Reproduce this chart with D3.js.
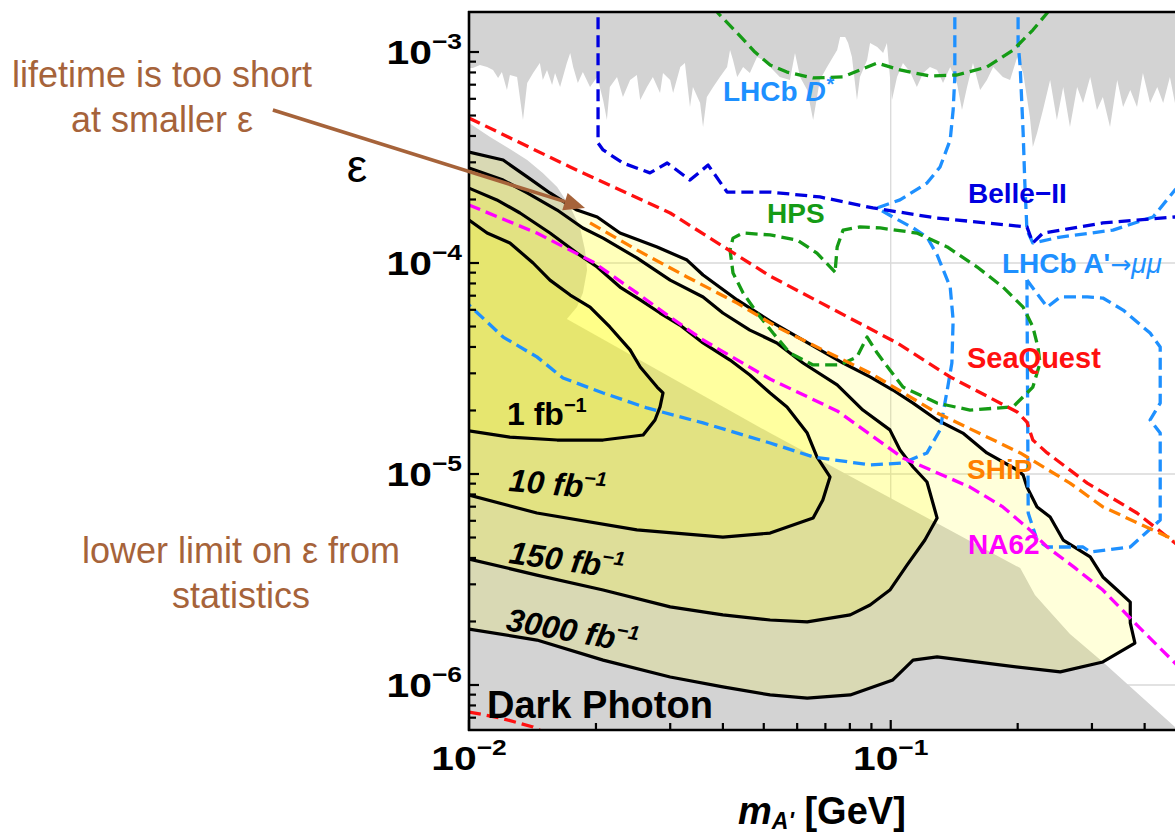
<!DOCTYPE html>
<html>
<head>
<meta charset="utf-8">
<script src="https://cdn.jsdelivr.net/npm/d3@7"></script>
<style>
  html, body { margin: 0; padding: 0; background: #fff; }
  svg { display: block; }
  text { font-family: "Liberation Sans", Arial, Helvetica, sans-serif; }
</style>
</head>
<body>
<svg id="chart" width="1175" height="833"></svg>
<script>
// ---------------------------------------------------------------
// Data. Every curve is tabulated as [log10(m_A' / GeV), log10(epsilon)].
// ---------------------------------------------------------------
const massTickValues = [0.01, 0.1];
const massTickLabels = [["10", "−2"], ["10", "−1"]];
const epsTickValues = [1e-6, 1e-5, 1e-4, 1e-3];
const epsTickLabels = [["10", "−6"], ["10", "−5"], ["10", "−4"], ["10", "−3"]];
const luminosities = ["1", "10", "150", "3000"];

// lower edge of the existing (beam dump / collider) exclusions at large epsilon
const topGrayEdge = [
  [-2.000,-3.076],[-1.991,-3.076],[-1.974,-3.062],[-1.957,-3.071],[-1.943,-3.085],[-1.931,-3.123],
  [-1.922,-3.095],[-1.910,-3.180],[-1.903,-3.109],[-1.886,-3.118],[-1.872,-3.322],[-1.862,-3.147],
  [-1.848,-3.100],[-1.832,-3.052],[-1.825,-3.133],[-1.815,-3.085],[-1.803,-3.156],[-1.796,-3.100],
  [-1.784,-3.166],[-1.768,-3.052],[-1.760,-3.005],[-1.753,-3.071],[-1.742,-3.147],[-1.730,-3.095],
  [-1.713,-3.166],[-1.696,-3.118],[-1.682,-3.227],[-1.673,-3.322],[-1.666,-3.166],[-1.649,-3.118],
  [-1.635,-3.213],[-1.618,-3.133],[-1.602,-3.109],[-1.594,-3.227],[-1.578,-3.166],[-1.564,-3.118],
  [-1.547,-3.194],[-1.540,-3.100],[-1.523,-3.133],[-1.516,-3.194],[-1.499,-3.071],[-1.488,-3.052],
  [-1.476,-3.261],[-1.469,-3.166],[-1.452,-3.242],[-1.445,-3.355],[-1.436,-3.213],[-1.421,-3.166],
  [-1.405,-3.118],[-1.388,-3.071],[-1.381,-2.991],[-1.374,-3.038],[-1.364,-3.118],[-1.350,-3.071],
  [-1.334,-3.100],[-1.317,-3.024],[-1.303,-3.038],[-1.286,-3.071],[-1.263,-3.118],[-1.239,-3.133],
  [-1.227,-3.005],[-1.215,-3.118],[-1.198,-3.180],[-1.184,-3.322],[-1.168,-3.133],[-1.151,-3.071],
  [-1.127,-2.991],[-1.120,-2.929],[-1.108,-2.929],[-1.101,-2.957],[-1.092,-3.024],[-1.080,-3.227],
  [-1.073,-3.118],[-1.056,-3.038],[-1.049,-2.957],[-1.032,-2.976],[-1.018,-3.005],[-1.009,-2.957],
  [-0.997,-3.227],[-0.985,-3.118],[-0.971,-3.052],[-0.954,-3.095],[-0.938,-3.166],[-0.923,-3.100],
  [-0.907,-3.071],[-0.890,-3.085],[-0.876,-3.147],[-0.859,-3.071],[-0.843,-3.147],[-0.831,-3.275],
  [-0.819,-3.166],[-0.805,-3.052],[-0.788,-3.180],[-0.772,-3.133],[-0.757,-3.071],[-0.734,-3.118],
  [-0.717,-3.133],[-0.700,-3.024],[-0.686,-3.100],[-0.670,-3.308],[-0.663,-3.450],[-0.653,-3.384],
  [-0.639,-3.275],[-0.622,-3.133],[-0.606,-3.322],[-0.591,-3.166],[-0.575,-3.355],[-0.558,-3.166],
  [-0.544,-3.242],[-0.527,-3.118],[-0.511,-3.275],[-0.497,-3.213],[-0.480,-3.355],[-0.463,-3.133],
  [-0.449,-3.261],[-0.432,-3.180],[-0.416,-3.261],[-0.402,-3.100],[-0.385,-3.242],[-0.368,-3.166],
  [-0.354,-3.242],[-0.338,-3.118],[-0.326,-3.242],[-0.290,-3.150]
];

// edge of the gray dark-photon band
const darkPhotonEdge = [
  [-2.000,-3.337],[-1.950,-3.403],[-1.903,-3.460],[-1.862,-3.512],[-1.825,-3.574],[-1.791,-3.640],
  [-1.760,-3.735],[-1.737,-3.829],[-1.725,-3.938],[-1.720,-4.033],[-1.730,-4.142],[-1.744,-4.209],
  [-1.768,-4.265],[-1.286,-4.806],[-0.693,-5.446],[-0.658,-5.573],[-0.622,-5.654],[-0.575,-5.758],
  [-0.497,-5.891],[-0.326,-6.199],[-0.290,-6.265]
];

// projected reach for each integrated luminosity
const contour1 = [
  [-2.000,-3.796],[-1.957,-3.858],[-1.903,-3.905],[-1.848,-4.000],[-1.808,-4.081],[-1.760,-4.152],
  [-1.713,-4.209],[-1.666,-4.303],[-1.618,-4.412],[-1.594,-4.493],[-1.554,-4.588],[-1.540,-4.616],
  [-1.547,-4.682],[-1.559,-4.744],[-1.587,-4.815],[-1.682,-4.839],[-1.791,-4.839],[-1.903,-4.825],
  [-2.000,-4.796]
];
const contour10 = [
  [-2.000,-3.645],[-1.934,-3.701],[-1.879,-3.763],[-1.808,-3.858],[-1.744,-3.953],[-1.696,-4.019],
  [-1.642,-4.114],[-1.594,-4.175],[-1.547,-4.237],[-1.500,-4.294],[-1.445,-4.379],[-1.381,-4.460],
  [-1.334,-4.531],[-1.286,-4.616],[-1.246,-4.682],[-1.198,-4.806],[-1.175,-4.919],[-1.144,-5.014],
  [-1.161,-5.123],[-1.184,-5.209],[-1.286,-5.280],[-1.398,-5.299],[-1.602,-5.265],[-1.839,-5.185],
  [-2.000,-5.100]
];
const contour150 = [
  [-2.000,-3.550],[-1.919,-3.607],[-1.862,-3.668],[-1.791,-3.749],[-1.730,-3.834],[-1.682,-3.882],
  [-1.602,-3.976],[-1.523,-4.081],[-1.445,-4.161],[-1.398,-4.237],[-1.334,-4.318],[-1.270,-4.379],
  [-1.208,-4.474],[-1.127,-4.578],[-1.066,-4.697],[-1.002,-4.791],[-0.978,-4.886],[-0.947,-4.967],
  [-0.914,-5.038],[-0.890,-5.209],[-0.919,-5.313],[-0.961,-5.431],[-1.002,-5.550],[-1.049,-5.621],
  [-1.096,-5.668],[-1.198,-5.701],[-1.286,-5.692],[-1.398,-5.668],[-1.523,-5.630],[-1.682,-5.550],
  [-1.839,-5.479],[-2.000,-5.403]
];
const contour3000 = [
  [-2.000,-3.474],[-1.919,-3.512],[-1.862,-3.592],[-1.808,-3.668],[-1.744,-3.749],[-1.696,-3.782],
  [-1.642,-3.858],[-1.554,-3.924],[-1.483,-3.986],[-1.445,-4.057],[-1.364,-4.175],[-1.286,-4.275],
  [-1.208,-4.365],[-1.113,-4.474],[-1.049,-4.540],[-0.995,-4.602],[-0.947,-4.664],[-0.890,-4.744],
  [-0.829,-4.806],[-0.772,-4.900],[-0.700,-4.981],[-0.686,-5.005],[-0.677,-5.062],[-0.653,-5.156],
  [-0.622,-5.204],[-0.591,-5.313],[-0.527,-5.393],[-0.497,-5.488],[-0.463,-5.550],[-0.432,-5.607],
  [-0.432,-5.706],[-0.421,-5.801],[-0.497,-5.891],[-0.598,-5.938],[-0.741,-5.905],[-0.890,-5.867],
  [-0.947,-5.882],[-0.995,-5.976],[-1.096,-6.047],[-1.198,-6.062],[-1.286,-6.047],[-1.398,-6.009],
  [-1.523,-5.962],[-1.682,-5.882],[-1.839,-5.787],[-2.000,-5.735]
];

// other experiments (dashed)
const seaQuestUpper = [
  [-2.000,-3.313],[-1.760,-3.545],[-1.523,-3.763],[-1.286,-4.062],[-0.985,-4.379],[-0.859,-4.540],
  [-0.700,-4.706],[-0.677,-4.754],[-0.663,-4.839],[-0.629,-4.900],[-0.534,-5.043],[-0.416,-5.185],
  [-0.326,-5.327],[-0.278,-5.389]
];
const seaQuestLower = [[-2.000,-6.128],[-1.926,-6.156],[-1.848,-6.199],[-1.784,-6.261]];
const shipLine = [
  [-1.713,-3.810],[-1.602,-3.938],[-1.483,-4.066],[-1.364,-4.190],[-1.270,-4.303],[-1.161,-4.412],
  [-1.049,-4.521],[-0.890,-4.711],[-0.693,-4.900],[-0.575,-5.043],[-0.497,-5.156],[-0.326,-5.313],
  [-0.278,-5.355]
];
const na62Line = [
  [-2.000,-3.725],[-1.839,-3.858],[-1.706,-3.995],[-1.602,-4.142],[-1.523,-4.256],[-1.445,-4.365],
  [-1.286,-4.550],[-1.127,-4.701],[-0.971,-4.924],[-0.812,-5.062],[-0.734,-5.156],[-0.670,-5.265],
  [-0.629,-5.346],[-0.563,-5.445],[-0.497,-5.550],[-0.416,-5.716],[-0.326,-5.896],[-0.278,-5.995]
];
const lhcbDstar = [
  [-0.848,-2.750],[-0.848,-3.118],[-0.852,-3.275],[-0.859,-3.417],[-0.883,-3.545],[-0.914,-3.621],
  [-0.978,-3.701],[-1.032,-3.739],[-0.995,-3.782],[-0.947,-3.834],[-0.914,-3.877],[-0.890,-3.962],
  [-0.859,-4.114],[-0.852,-4.270],[-0.855,-4.474],[-0.866,-4.602],[-0.883,-4.791],[-0.914,-4.900],
  [-0.971,-4.948],[-1.049,-4.957],[-1.184,-4.919],[-1.286,-4.853],[-1.445,-4.758],[-1.578,-4.687],
  [-1.682,-4.616],[-1.777,-4.545],[-1.839,-4.445],[-1.919,-4.351],[-2.000,-4.199]
];
const lhcbMuMuUpper = [
  [-0.698,-2.750],[-0.698,-2.957],[-0.693,-3.071],[-0.686,-3.384],[-0.682,-3.621],[-0.677,-3.844],
  [-0.663,-3.905],[-0.598,-3.877],[-0.473,-3.844],[-0.378,-3.782],[-0.326,-3.654],[-0.278,-3.559]
];
const lhcbMuMuLower = [
  [-0.677,-4.081],[-0.629,-4.209],[-0.598,-4.161],[-0.534,-4.161],[-0.497,-4.166],[-0.449,-4.223],
  [-0.385,-4.332],[-0.361,-4.398],[-0.361,-4.664],[-0.385,-4.744],[-0.361,-4.806],[-0.361,-5.218],
  [-0.432,-5.346],[-0.527,-5.370],[-0.544,-5.346],[-0.629,-5.346],[-0.653,-5.313],[-0.674,-5.185],
  [-0.677,-4.081]
];
const belle2Line = [
  [-1.694,-2.750],[-1.694,-3.431],[-1.682,-3.464],[-1.635,-3.526],[-1.571,-3.573],[-1.530,-3.526],
  [-1.476,-3.607],[-1.433,-3.536],[-1.388,-3.664],[-1.286,-3.664],[-1.168,-3.687],[-1.042,-3.739],
  [-0.890,-3.787],[-0.677,-3.829],[-0.663,-3.905],[-0.639,-3.858],[-0.497,-3.810],[-0.326,-3.782],
  [-0.278,-3.773]
];
const hpsTop = [
  [-1.414,-2.780],[-1.410,-2.815],[-1.364,-2.910],[-1.322,-3.000],[-1.286,-3.062],[-1.246,-3.095],
  [-1.184,-3.123],[-1.113,-3.118],[-1.032,-3.052],[-0.978,-3.085],[-0.907,-3.114],[-0.843,-3.109],
  [-0.772,-3.071],[-0.710,-2.991],[-0.663,-2.896],[-0.629,-2.815],[-0.618,-2.777]
];
const hpsLoop = [
  [-1.132,-4.043],[-1.175,-3.953],[-1.222,-3.891],[-1.286,-3.867],[-1.350,-3.858],[-1.374,-3.882],
  [-1.381,-3.938],[-1.374,-4.047],[-1.350,-4.142],[-1.317,-4.237],[-1.279,-4.332],[-1.239,-4.427],
  [-1.184,-4.483],[-1.120,-4.483],[-1.080,-4.445],[-1.056,-4.351],[-1.032,-4.427],[-1.002,-4.507],
  [-0.971,-4.588],[-0.890,-4.664],[-0.812,-4.697],[-0.710,-4.682],[-0.663,-4.588],[-0.646,-4.474],
  [-0.651,-4.398],[-0.663,-4.303],[-0.686,-4.209],[-0.734,-4.114],[-0.795,-4.019],[-0.866,-3.924],
  [-0.938,-3.858],[-1.025,-3.834],[-1.073,-3.829],[-1.113,-3.844],[-1.127,-3.924],[-1.132,-4.043]
];

// annotation arrow: tail near the text, head on the short-lifetime edge
const lifetimeArrow = [[-2.465,-3.275],[-1.725,-3.739]];

// ---------------------------------------------------------------
// Scales
// ---------------------------------------------------------------
const svg = d3.select("#chart");
const x = d3.scaleLog().domain([0.01, 0.5]).range([469, 1185.5]);
const y = d3.scaleLog().domain([Math.pow(10, -6.2133), Math.pow(10, -2.8104)]).range([730, 12]);
const X = lm => x(Math.pow(10, lm));
const Y = le => y(Math.pow(10, le));
const line = d3.line().x(d => X(d[0])).y(d => Y(d[1]));

const FONT = '"Liberation Sans", Arial, Helvetica, sans-serif';
const BROWN = "#a6633a";

svg.append("defs").append("clipPath").attr("id", "plotClip")
  .append("rect").attr("x", 469).attr("y", 12).attr("width", 720).attr("height", 718);

const plot = svg.append("g").attr("clip-path", "url(#plotClip)");

// grid lines
const gridColor = "#d9d9d9";
plot.append("line").attr("x1", x(0.1)).attr("x2", x(0.1)).attr("y1", 12).attr("y2", 730)
  .attr("stroke", gridColor).attr("stroke-width", 1.3);
[1e-6, 1e-5, 1e-4].forEach(v => {
  plot.append("line").attr("x1", 469).attr("x2", 1190).attr("y1", y(v)).attr("y2", y(v))
    .attr("stroke", gridColor).attr("stroke-width", 1.3);
});

// gray regions
const GRAY = "#d3d3d3";
const topGrayPoly = [[-2.0, -2.6]].concat(topGrayEdge, [[-0.25, -3.15], [-0.25, -2.6]]);
plot.append("path").attr("d", line(topGrayPoly) + "Z").attr("fill", GRAY);
const bandPoly = darkPhotonEdge.concat([[-0.25, -6.4], [-2.0, -6.4]]);
plot.append("path").attr("d", line(bandPoly) + "Z").attr("fill", GRAY);

// luminosity regions (nested, translucent yellow)
const contours = [contour3000, contour150, contour10, contour1];
contours.forEach(c => {
  plot.append("path").attr("d", line(c) + "Z")
    .attr("fill", "#ffff00").attr("fill-opacity", 0.145);
});
contours.forEach(c => {
  plot.append("path").attr("d", line(c))
    .attr("fill", "none").attr("stroke", "#000").attr("stroke-width", 3.2)
    .attr("stroke-linejoin", "round");
});

// dashed experiment curves
const dashed = [
  { pts: lhcbDstar, color: "#1e90ff" },
  { pts: lhcbMuMuUpper, color: "#1e90ff" },
  { pts: lhcbMuMuLower, color: "#1e90ff" },
  { pts: hpsTop, color: "#159b15" },
  { pts: hpsLoop, color: "#159b15" },
  { pts: belle2Line, color: "#0000e0" },
  { pts: seaQuestUpper, color: "#ff1010" },
  { pts: seaQuestLower, color: "#ff1010" },
  { pts: shipLine, color: "#ff8000" },
  { pts: na62Line, color: "#ff00ff" }
];
dashed.forEach(d => {
  plot.append("path").attr("d", line(d.pts))
    .attr("fill", "none").attr("stroke", d.color).attr("stroke-width", 3.3)
    .attr("stroke-dasharray", "12 6").attr("stroke-linejoin", "round");
});

// experiment labels
function label(g, xPos, yPos, color, parts, size) {
  const t = g.append("text").attr("x", xPos).attr("y", yPos).attr("fill", color)
    .attr("font-size", size).attr("font-family", FONT);
  parts.forEach(p => {
    const s = t.append("tspan").text(p.t)
      .attr("font-weight", p.w || "bold")
      .attr("font-style", p.i ? "italic" : "normal");
    if (p.s) s.attr("font-size", p.s);
    if (p.f) s.attr("font-family", p.f);
    if (p.dy) s.attr("dy", p.dy);
  });
  return t;
}
label(svg, 723, 101, "#1e90ff", [{ t: "LHCb " }, { t: "D", i: true }, { t: "*", i: true, s: 20, dy: -10 }], 28);
label(svg, 968, 203, "#0000e0", [{ t: "Belle−II" }], 28);
label(svg, 767, 223, "#159b15", [{ t: "HPS" }], 28);
label(svg, 1002, 273, "#1e90ff", [
  { t: "LHCb A'" },
  { t: "→", w: "normal", f: "'DejaVu Sans', sans-serif", s: 25 },
  { t: "μμ", w: "normal", i: true }
], 28);
label(svg, 967, 368, "#ff1010", [{ t: "SeaQuest" }], 29);
label(svg, 967, 479, "#ff8000", [{ t: "SHiP" }], 28);
label(svg, 968, 554, "#ff00ff", [{ t: "NA62" }], 28);

// luminosity labels along the contours
const lumiLabelPos = [[507, 425, 0, false], [508, 491, 5, true], [508, 563, 8, true], [505, 630, 10, true]];
luminosities.forEach((L, i) => {
  const [lx, ly, rot, ital] = lumiLabelPos[i];
  const t = svg.append("text")
    .attr("transform", `translate(${lx},${ly}) rotate(${rot})`)
    .attr("font-size", 32).attr("font-weight", "bold").attr("fill", "#000")
    .attr("font-style", ital ? "italic" : "normal");
  t.append("tspan").text(L + " fb");
  t.append("tspan").text("−1").attr("font-size", 20).attr("dy", -13);
});

svg.append("text").attr("x", 487).attr("y", 718).attr("font-size", 38)
  .attr("font-weight", "bold").attr("fill", "#000").text("Dark Photon");

// axes frame
svg.append("line").attr("x1", 469).attr("x2", 469).attr("y1", 11).attr("y2", 731)
  .attr("stroke", "#000").attr("stroke-width", 2.6);
svg.append("line").attr("x1", 468).attr("x2", 1175).attr("y1", 730).attr("y2", 730)
  .attr("stroke", "#000").attr("stroke-width", 2.6);
svg.append("line").attr("x1", 468).attr("x2", 1175).attr("y1", 12).attr("y2", 12)
  .attr("stroke", "#000").attr("stroke-width", 2.6);

// ticks
const isPow10 = v => Math.abs(Math.log10(v) - Math.round(Math.log10(v))) < 1e-9;
y.ticks().forEach(v => {
  const len = isPow10(v) ? 10 : 7;
  svg.append("line").attr("x1", 469).attr("x2", 469 + len).attr("y1", y(v)).attr("y2", y(v))
    .attr("stroke", "#000").attr("stroke-width", 2.2);
});
x.ticks().forEach(v => {
  const len = isPow10(v) ? 10 : 7;
  svg.append("line").attr("x1", x(v)).attr("x2", x(v)).attr("y1", 730).attr("y2", 730 - len)
    .attr("stroke", "#000").attr("stroke-width", 2.2);
});

// tick labels (power-of-ten form)
function powLabel(px, py, anchor, parts) {
  const g = svg.append("g").attr("transform", `translate(${px},${py}) scale(1.2,1)`);
  const t = g.append("text").attr("text-anchor", anchor).attr("font-weight", "bold")
    .attr("font-size", 34).attr("fill", "#000");
  t.append("tspan").text(parts[0]);
  t.append("tspan").text(parts[1]).attr("font-size", 22).attr("dy", -15);
}
epsTickValues.forEach((v, i) => powLabel(462, y(v) + 12, "end", epsTickLabels[i]));
massTickValues.forEach((v, i) => powLabel(x(v), 770, "middle", massTickLabels[i]));

// axis titles
const xt = svg.append("text").attr("x", 738).attr("y", 824).attr("font-size", 38)
  .attr("font-weight", "bold").attr("fill", "#000");
xt.append("tspan").text("m").attr("font-style", "italic");
xt.append("tspan").text("A'").attr("font-style", "italic").attr("font-size", 23).attr("dy", 5);
xt.append("tspan").text(" [GeV]").attr("dy", -5);

svg.append("text").attr("x", 357).attr("y", 182).attr("text-anchor", "middle")
  .attr("font-size", 46).attr("fill", "#000").text("ε");

// annotations
function note(cx, lines, y0, dy) {
  lines.forEach((s, i) => {
    svg.append("text").attr("x", cx).attr("y", y0 + i * dy).attr("text-anchor", "middle")
      .attr("font-family", "Roboto, 'Liberation Sans', Arial, sans-serif")
      .attr("font-weight", 300).attr("font-size", 36).attr("fill", BROWN).text(s);
  });
}
note(162, ["lifetime is too short", "at smaller ε"], 87, 45);
note(241, ["lower limit on ε from", "statistics"], 563, 45);

// arrow from the note to the contour edge
const [tail, tip] = lifetimeArrow.map(([a, b]) => [X(a), Y(b)]);
const dxA = tip[0] - tail[0], dyA = tip[1] - tail[1];
const lenA = Math.hypot(dxA, dyA);
const ux = dxA / lenA, uy = dyA / lenA;
const headLen = 21, headHalf = 9;
const base = [tip[0] - ux * headLen, tip[1] - uy * headLen];
svg.append("line").attr("x1", tail[0]).attr("y1", tail[1]).attr("x2", base[0]).attr("y2", base[1])
  .attr("stroke", BROWN).attr("stroke-width", 3.6);
svg.append("path")
  .attr("d", `M${tip[0]},${tip[1]} L${base[0] - uy * headHalf},${base[1] + ux * headHalf} L${base[0] + uy * headHalf},${base[1] - ux * headHalf} Z`)
  .attr("fill", BROWN);
</script>
</body>
</html>
